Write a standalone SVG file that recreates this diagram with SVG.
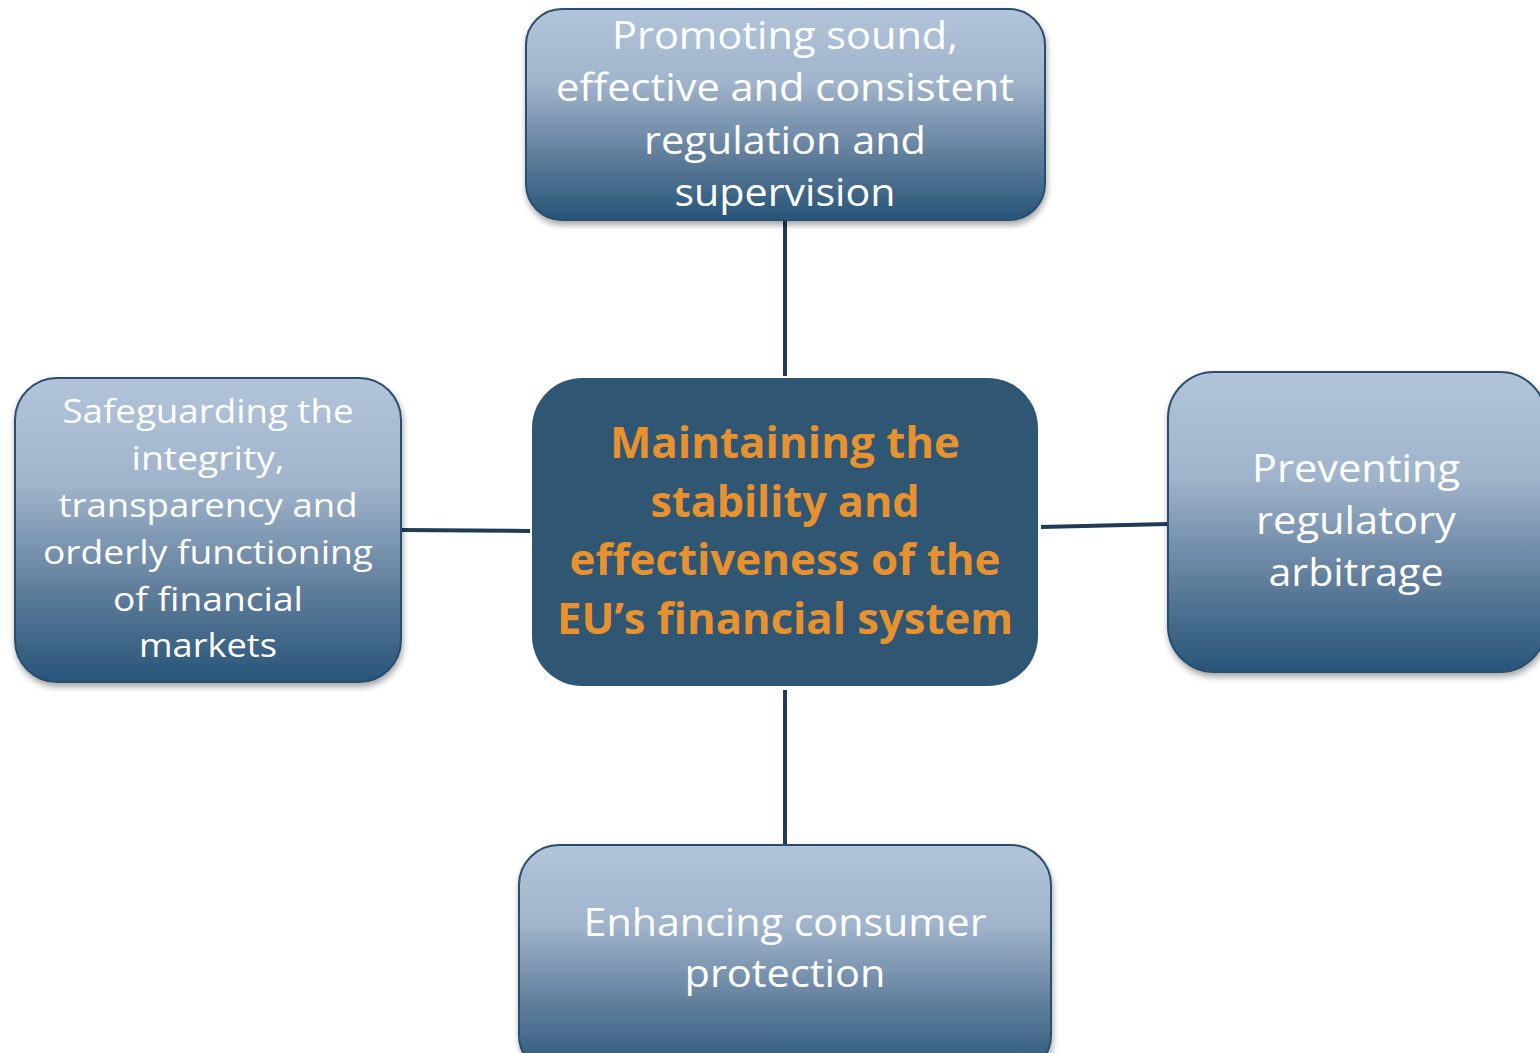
<svg xmlns="http://www.w3.org/2000/svg" width="1540" height="1053" viewBox="0 0 1540 1053">
<defs>
<linearGradient id="g" x1="0" y1="0" x2="0" y2="1">
<stop offset="0" stop-color="#b1c4da"/>
<stop offset="0.35" stop-color="#a0b4cb"/>
<stop offset="0.7" stop-color="#5f7d9b"/>
<stop offset="1" stop-color="#275579"/>
</linearGradient>
<filter id="sh" x="-10%" y="-10%" width="120%" height="125%">
<feDropShadow dx="1" dy="4" stdDeviation="3" flood-color="#000" flood-opacity="0.35"/>
</filter>
<style>
.box{fill:url(#g);stroke:#2b4f6e;stroke-width:2;filter:url(#sh)}
.t{font-family:"Open Sans","Liberation Sans",sans-serif;fill:#fff;text-anchor:middle}
.c{font-family:"Open Sans","Liberation Sans",sans-serif;font-weight:bold;fill:#e8912f;text-anchor:middle;font-size:43px}
.ln{stroke:#1f3c56;stroke-width:4;fill:none}
</style>
</defs>
<rect width="1540" height="1053" fill="#fff"/>
<g id="connectors">
<line class="ln" x1="785" y1="220" x2="785" y2="376"/>
<line class="ln" x1="785" y1="690" x2="785" y2="846"/>
<line class="ln" x1="401" y1="530" x2="530" y2="531"/>
<line class="ln" x1="1041" y1="527" x2="1168" y2="524"/>
</g>
<g id="node-top">
<rect class="box" x="526" y="9" width="519" height="211" rx="36"/>
<text class="t" font-size="38"><tspan x="785" y="49" textLength="346" lengthAdjust="spacingAndGlyphs">Promoting sound,</tspan><tspan x="785" y="101" textLength="458" lengthAdjust="spacingAndGlyphs">effective and consistent</tspan><tspan x="785" y="154" textLength="282" lengthAdjust="spacingAndGlyphs">regulation and</tspan><tspan x="785" y="206" textLength="221" lengthAdjust="spacingAndGlyphs">supervision</tspan></text>
</g>
<g id="node-center">
<rect x="532" y="378" width="506" height="308" rx="50" fill="#2f5673"/>
<text class="c"><tspan x="785" y="458" textLength="350" lengthAdjust="spacingAndGlyphs">Maintaining the</tspan><tspan x="785" y="517" textLength="269" lengthAdjust="spacingAndGlyphs">stability and</tspan><tspan x="785" y="575" textLength="431" lengthAdjust="spacingAndGlyphs">effectiveness of the</tspan><tspan x="785" y="634" textLength="456" lengthAdjust="spacingAndGlyphs">EU’s financial system</tspan></text>
</g>
<g id="node-left">
<rect class="box" x="15" y="378" width="386" height="304" rx="42"/>
<text class="t" font-size="33"><tspan x="208" y="423" textLength="291" lengthAdjust="spacingAndGlyphs">Safeguarding the</tspan><tspan x="208" y="470" textLength="153" lengthAdjust="spacingAndGlyphs">integrity,</tspan><tspan x="208" y="517" textLength="299" lengthAdjust="spacingAndGlyphs">transparency and</tspan><tspan x="208" y="564" textLength="330" lengthAdjust="spacingAndGlyphs">orderly functioning</tspan><tspan x="208" y="611" textLength="190" lengthAdjust="spacingAndGlyphs">of financial</tspan><tspan x="208" y="657" textLength="138" lengthAdjust="spacingAndGlyphs">markets</tspan></text>
</g>
<g id="node-right">
<rect class="box" x="1168" y="372" width="378" height="300" rx="46"/>
<text class="t" font-size="38"><tspan x="1356" y="482" textLength="208" lengthAdjust="spacingAndGlyphs">Preventing</tspan><tspan x="1356" y="534" textLength="200" lengthAdjust="spacingAndGlyphs">regulatory</tspan><tspan x="1356" y="586" textLength="175" lengthAdjust="spacingAndGlyphs">arbitrage</tspan></text>
</g>
<g id="node-bottom">
<rect class="box" x="519" y="845" width="532" height="230" rx="40"/>
<text class="t" font-size="38"><tspan x="785" y="936" textLength="403" lengthAdjust="spacingAndGlyphs">Enhancing consumer</tspan><tspan x="785" y="987" textLength="201" lengthAdjust="spacingAndGlyphs">protection</tspan></text>
</g>
</svg>
